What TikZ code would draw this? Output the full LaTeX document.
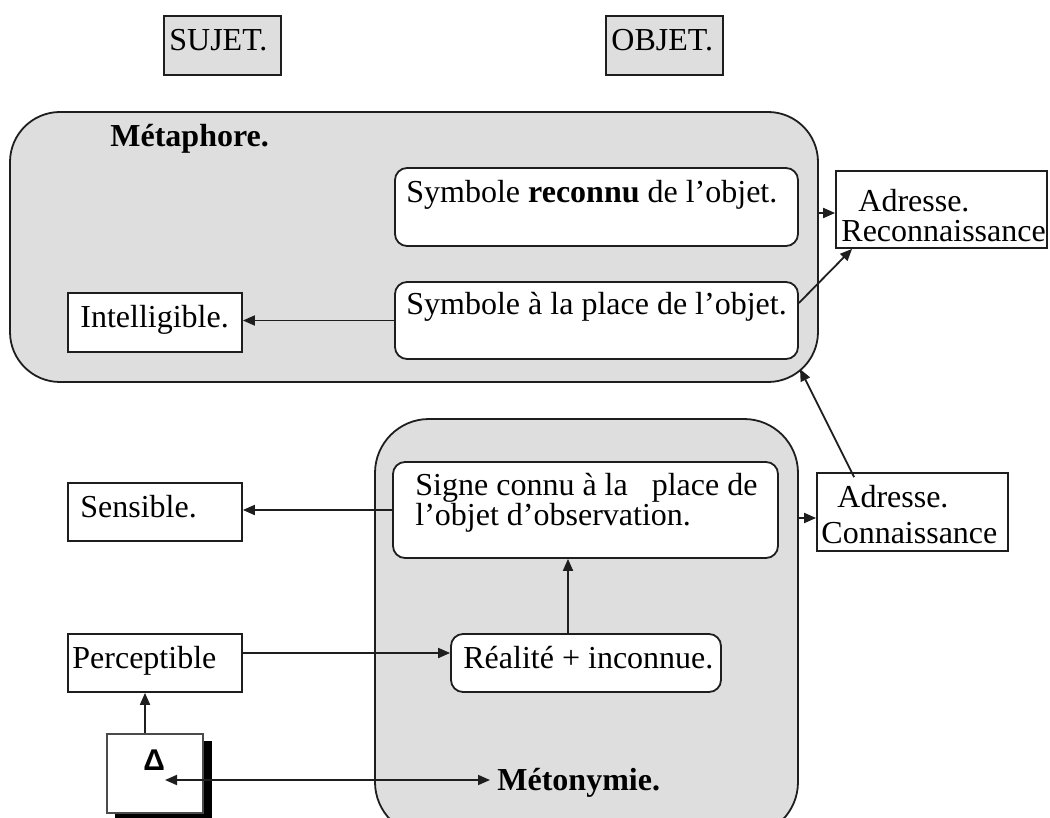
\documentclass[tikz,border=0pt]{standalone}
\usepackage{fontspec}
\setmainfont{Liberation Serif}
\newfontfamily\dsans{Liberation Sans}
\usetikzlibrary{fit,arrows.meta,calc}
\definecolor{panel}{HTML}{DEDEDE}
\definecolor{ink}{HTML}{1E1E1E}
\begin{document}
\begin{tikzpicture}[x=0.5pt,y=-0.5pt, font=\fontsize{16}{17}\selectfont,
  sq/.style={draw=ink, line width=0.9pt, inner sep=0pt, fill=white},
  rbox/.style={sq, rounded corners=6pt},
  graybox/.style={draw=ink, line width=0.9pt, inner sep=0pt, fill=panel},
  panelbox/.style={graybox, rounded corners=25pt},
  txt/.style={anchor=base west, inner sep=0pt},
  arr/.style={draw=ink, line width=0.9pt, -{Triangle[length=6pt,width=5pt]}},
]
\clip (0,0) rectangle (1050,818);
\fill[white] (0,0) rectangle (1050,818);

% top labels
\node[graybox, fit={(164,16) (281,75)}] (sujet) {};
\node[txt] at (169,51) {SUJET.};
\node[graybox, fit={(606,16) (723,75)}] (objet) {};
\node[txt] at (611,51) {OBJET.};

% Metaphore panel
\node[panelbox, fit={(10,112) (818,382)}] (met) {};
\node[txt] at (110,147) {\bfseries Métaphore.};
\node[rbox, fit={(395,168) (798,246)}] (sr) {};
\node[txt] at (406,203) {Symbole \textbf{reconnu} de l’objet.};
\node[rbox, fit={(395,282) (798,359)}] (sp) {};
\node[txt] at (406,315) {Symbole à la place de l’objet.};
\node[sq, fit={(68,293) (242,352)}] (intel) {};
\node[txt] at (80,328) {Intelligible.};

\node[sq, fit={(836,171) (1047,248)}] (ar) {};
\node[txt] at (858,212) {Adresse.};
\node[txt] at (841,242) {Reconnaissance};

% Metonymie panel
\node[panelbox, rounded corners=27pt, fit={(375,419) (798,836)}] (mety) {};
\node[rbox, fit={(393,462) (778,558)}] (sc) {};
\node[txt] at (415,495) {Signe connu à la\ \ \ place de};
\node[txt] at (415,525) {l’objet d’observation.};
\node[rbox, fit={(451,634) (721,692)}] (real) {};
\node[txt] at (463,668) {Réalité + inconnue.};
\node[txt] (mlabel) at (497,790) {\bfseries Métonymie.};

\node[sq, fit={(68,483) (242,541)}] (sens) {};
\node[txt] at (80,517) {Sensible.};
\node[sq, fit={(68,634) (242,692)}] (perc) {};
\node[txt] at (72,668) {Perceptible};

\node[sq, fit={(817,473) (1008,551)}] (ac) {};
\node[txt] at (837,507) {Adresse.};
\node[txt] at (821,543) {Connaissance};

% delta box with shadow
\fill[black] (115,741) rectangle (212,820);
\node[sq, draw=ink!80, fit={(107,734) (203,813)}] (delta) {};
\node[txt] at (143,770) {\dsans\bfseries\fontsize{15}{15}\selectfont Δ};
\coordinate (dpt) at (165,780);
\coordinate (metcorner) at (800,369);

% connectors
\draw[arr] (sp.west) -- (sp.west -| intel.east);
\draw[arr] (met.east |- 0,213) -- (ar.west |- 0,213);
\draw[arr] (sp.east |- 0,303) -- ($(ar.south west)+(17,0)$);
\draw[arr] ($(ac.north west)+(38,5)$) -- (metcorner);
\draw[arr] (sc.west) -- (sc.west -| sens.east);
\draw[arr] (mety.east |- 0,518) -- (ac.west |- 0,518);
\draw[arr] (perc.east |- 0,653) -- (real.west |- 0,653);
\draw[arr] (real.north -| 568,0) -- (sc.south -| 568,0);
\draw[arr] (delta.north -| 145,0) -- (perc.south -| 145,0);
\draw[draw=ink, line width=0.9pt, {Triangle[length=6pt,width=5pt]}-{Triangle[length=6pt,width=5pt]}, shorten >=3.5pt] (dpt) -- (mlabel.west |- dpt);
\end{tikzpicture}
\end{document}
